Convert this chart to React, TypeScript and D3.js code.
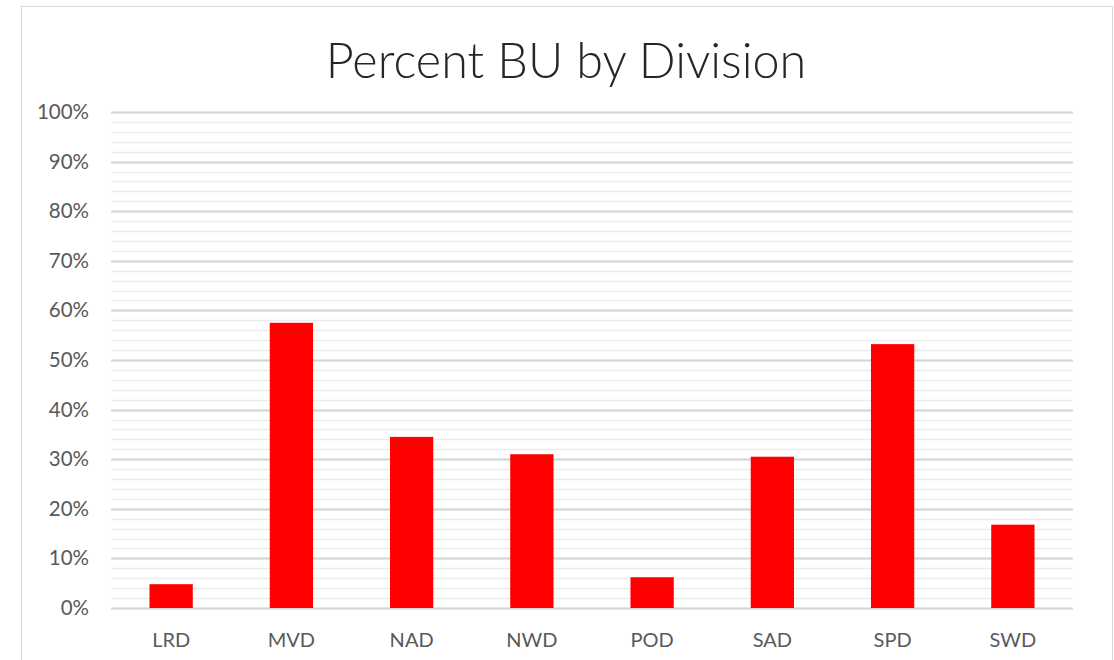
import React, { useEffect, useRef } from 'react';
import * as d3 from 'd3';

// Chart data
const divisions = ['LRD', 'MVD', 'NAD', 'NWD', 'POD', 'SAD', 'SPD', 'SWD'];
const percentBU = [0.048, 0.575, 0.345, 0.31, 0.062, 0.305, 0.532, 0.168];
const majorTicks = [0, 0.1, 0.2, 0.3, 0.4, 0.5, 0.6, 0.7, 0.8, 0.9, 1.0];
const minorTicks = d3.range(0, 51).map((i) => i / 50);

const App = () => {
  const chartRef = useRef<HTMLDivElement>(null);

  useEffect(() => {
    const width = 1114;
    const height = 660;
    const margin = { top: 112, right: 41, bottom: 52, left: 111 };
    const font = 'Lato, "Open Sans", sans-serif';

    d3.select(chartRef.current).select('svg').remove();

    const svg = d3
      .select(chartRef.current)
      .append('svg')
      .attr('width', width)
      .attr('height', height)
      .style('display', 'block');

    // Chart frame
    svg
      .append('rect')
      .attr('x', 21.5)
      .attr('y', 6.5)
      .attr('width', 1091)
      .attr('height', 670)
      .attr('fill', '#fff')
      .attr('stroke', '#d9d9d9');

    const xScale = d3
      .scaleBand()
      .domain(divisions)
      .range([margin.left, width - margin.right])
      .paddingInner(0.64)
      .paddingOuter(0.32);

    const yScale = d3
      .scaleLinear()
      .domain([0, 1])
      .range([height - margin.bottom, margin.top]);

    // Minor gridlines
    svg
      .append('g')
      .selectAll('line')
      .data(minorTicks)
      .enter()
      .append('line')
      .attr('x1', margin.left)
      .attr('x2', width - margin.right)
      .attr('y1', (d) => Math.round(yScale(d)) + 0.5)
      .attr('y2', (d) => Math.round(yScale(d)) + 0.5)
      .attr('stroke', '#ececec')
      .attr('stroke-width', 1.5);

    // Major gridlines
    svg
      .append('g')
      .selectAll('line')
      .data(majorTicks)
      .enter()
      .append('line')
      .attr('x1', margin.left)
      .attr('x2', width - margin.right)
      .attr('y1', (d) => Math.round(yScale(d)) + 0.5)
      .attr('y2', (d) => Math.round(yScale(d)) + 0.5)
      .attr('stroke', '#d4d4d4')
      .attr('stroke-width', 2);

    // Bars
    svg
      .append('g')
      .selectAll('rect')
      .data(percentBU)
      .enter()
      .append('rect')
      .attr('x', (_, i) => xScale(divisions[i]) as number)
      .attr('y', (d) => yScale(d))
      .attr('width', xScale.bandwidth())
      .attr('height', (d) => yScale(0) - yScale(d))
      .attr('fill', '#ff0000');

    // Y axis labels
    const yAxis = svg
      .append('g')
      .attr('transform', `translate(${margin.left - 22},0)`)
      .call(
        d3
          .axisLeft(yScale)
          .tickValues(majorTicks)
          .tickFormat(d3.format('.0%'))
          .tickSize(0)
          .tickPadding(0)
      );
    yAxis.select('.domain').remove();
    yAxis
      .selectAll('text')
      .attr('font-family', font)
      .attr('font-size', 20.5)
      .attr('fill', '#595959');

    // X axis labels
    const xAxis = svg
      .append('g')
      .attr('transform', `translate(0,${height - margin.bottom})`)
      .call(d3.axisBottom(xScale).tickSize(0).tickPadding(25));
    xAxis.select('.domain').remove();
    xAxis
      .selectAll('text')
      .attr('font-family', font)
      .attr('font-size', 20)
      .attr('fill', '#595959');

    // Title
    svg
      .append('text')
      .attr('x', 566)
      .attr('y', 78)
      .attr('text-anchor', 'middle')
      .attr('font-family', font)
      .attr('font-weight', 300)
      .attr('font-size', 48.5)
      .attr('fill', '#262626')
      .text('Percent BU by Division');
  }, []);

  return (
    <div style={{ position: 'absolute', left: 0, top: 0 }}>
      <div ref={chartRef}></div>
    </div>
  );
};

export default App;
